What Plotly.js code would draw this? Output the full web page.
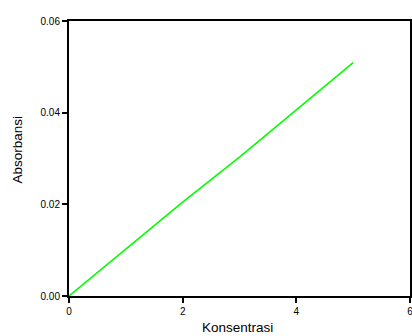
<!DOCTYPE html>
<html><head><meta charset="utf-8">
<script src="https://cdn.plot.ly/plotly-3.0.1.min.js"></script>
<style>html,body{margin:0;padding:0;background:#fff;}#chart{width:412px;height:336px;}</style>
</head><body><div id="chart"></div>
<script>
const konsentrasi = [0, 1, 2, 3, 4, 5];
const absorbansi = [0, 0.0102, 0.0205, 0.0303, 0.0406, 0.0509];
const xTicks = [0, 2, 4, 6];
const yTicks = [0, 0.02, 0.04, 0.06];
const xTitle = 'Konsentrasi';
const yTitle = 'Absorbansi';

Plotly.newPlot('chart', [{
  x: konsentrasi, y: absorbansi, type: 'scatter', mode: 'lines',
  line: {color: '#00ff00', width: 1.6}, showlegend: false
}], {
  width: 412, height: 336,
  margin: {l: 69, r: 2, t: 21, b: 40},
  paper_bgcolor: '#fff', plot_bgcolor: '#fff',
  font: {family: 'Liberation Sans, Arial, sans-serif', size: 10, color: '#000'},
  xaxis: {
    range: [0, 6], tickvals: xTicks, ticktext: xTicks.map(String),
    showgrid: false, zeroline: false, showline: true, mirror: true, ticklabeloverflow: 'allow',
    linecolor: '#000', linewidth: 2, ticks: 'outside', ticklen: 5, tickwidth: 2, tickcolor: '#000'
  },
  yaxis: {
    range: [0, 0.06], tickvals: yTicks, ticktext: yTicks.map(v => v.toFixed(2)),
    showgrid: false, zeroline: false, showline: true, mirror: true,
    linecolor: '#000', linewidth: 2, ticks: 'outside', ticklen: 5, tickwidth: 2, tickcolor: '#000'
  },
  annotations: [
    {text: xTitle, xref: 'paper', yref: 'paper', x: 0.4956, y: -0.114, xanchor: 'center', yanchor: 'middle',
     showarrow: false, font: {size: 13.5}},
    {text: yTitle, xref: 'paper', yref: 'paper', x: -0.151, y: 0.531, xanchor: 'center', yanchor: 'middle',
     textangle: -90, showarrow: false, font: {size: 13.5}}
  ]
}, {staticPlot: true});
</script></body></html>
